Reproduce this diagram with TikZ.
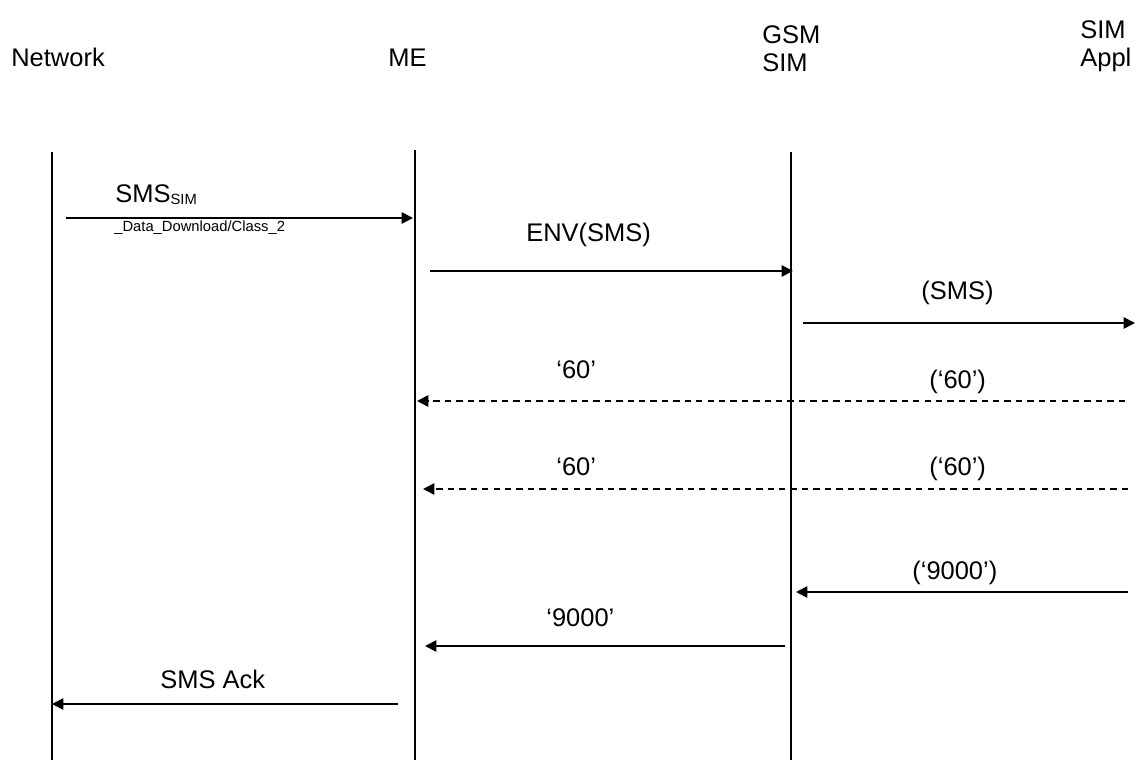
\documentclass[tikz,border=0pt]{standalone}
\usepackage{fontspec}
\setmainfont{Liberation Sans}
\usetikzlibrary{arrows.meta}

\begin{document}
\begin{tikzpicture}[x=0.02cm, y=-0.02cm,
    head/.style={font=\fontsize{14.5}{16.5}\selectfont, inner sep=0pt, anchor=base west, align=left},
    lbl/.style={font=\fontsize{14.5}{17}\selectfont, inner sep=0pt, anchor=base west},
    small/.style={font=\fontsize{8.4}{10}\selectfont, inner sep=0pt, anchor=base west},
    life/.style={line width=0.8pt},
    msg/.style={line width=1pt, -{Triangle[length=6.5pt, width=6.5pt]}},
    reply/.style={msg, dash pattern=on 3.6pt off 2.9pt}]
    \useasboundingbox (0,0) rectangle (1136,760);
    % entities (base = last line)
    \node[head] (network) at (11,67) {Network};
    \node[head] (me) at (388,67) {ME};
    \node[head] (gsmsim) at (762,72) {GSM\\SIM};
    \node[head] (simappl) at (1080,67) {SIM\\Appl};
    % lifelines
    \foreach \n/\x/\t in {net/52/152, me/415/150, gsm/791/152} {
      \coordinate (\n top) at (\x,\t);
      \coordinate (\n bot) at (\x,760);
      \draw[life] (\n top) -- (\n bot);
    }
    % SMS from network
    \coordinate (sms a) at (66,218);
    \coordinate (sms b) at (413,218);
    \draw[msg] (sms a) -- (sms b);
    \node[lbl] (smslbl) at (115,203) {SMS\raisebox{-0.6pt}{\fontsize{8.4}{10}\selectfont SIM}};
    \node[small] (smssub) at (114,232) {\_Data\_Download/Class\_2};
    % envelope
    \coordinate (env a) at (430,271);
    \coordinate (env b) at (793,271);
    \draw[msg] (env a) -- (env b);
    \node[lbl] (envlbl) at (526,242) {ENV(SMS)};
    \coordinate (app a) at (803,323);
    \coordinate (app b) at (1135,323);
    \draw[msg] (app a) -- (app b);
    \node[lbl] (applbl) at (921,299) {(SMS)};
    % more time
    \coordinate (wt1 a) at (1125,401);
    \coordinate (wt1 b) at (417,401);
    \draw[reply] (wt1 a) -- (wt1 b);
    \node[lbl] (wt1lbl) at (556,378) {‘60’};
    \node[lbl] (wt1app) at (929,388) {(‘60’)};
    \coordinate (wt2 a) at (1128,489);
    \coordinate (wt2 b) at (423,489);
    \draw[reply] (wt2 a) -- (wt2 b);
    \node[lbl] (wt2lbl) at (556,475) {‘60’};
    \node[lbl] (wt2app) at (929,475) {(‘60’)};
    % status words
    \coordinate (ok1 a) at (1128,592);
    \coordinate (ok1 b) at (796,592);
    \draw[msg] (ok1 a) -- (ok1 b);
    \node[lbl] (ok1lbl) at (912,579) {(‘9000’)};
    \coordinate (ok2 a) at (785,646);
    \coordinate (ok2 b) at (425,646);
    \draw[msg] (ok2 a) -- (ok2 b);
    \node[lbl] (ok2lbl) at (546,626) {‘9000’};
    % ack to network
    \coordinate (ack a) at (398,704);
    \coordinate (ack b) at (52,704);
    \draw[msg] (ack a) -- (ack b);
    \node[lbl] (acklbl) at (160,688) {SMS Ack};
\end{tikzpicture}
\end{document}
